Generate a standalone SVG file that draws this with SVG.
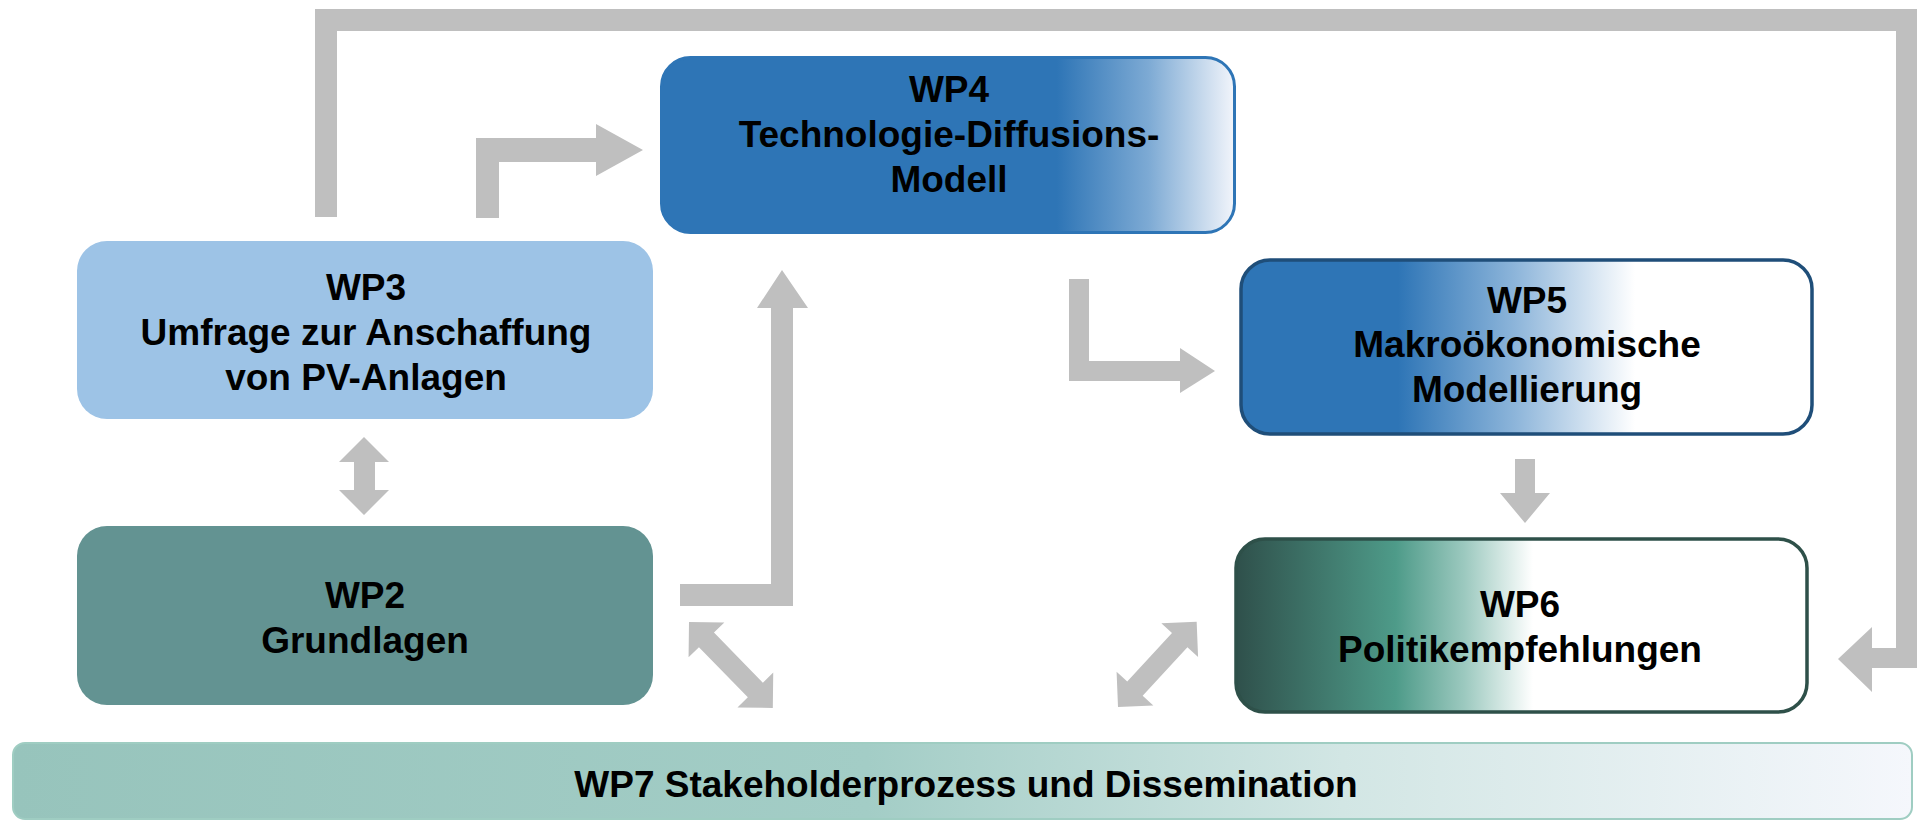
<svg xmlns="http://www.w3.org/2000/svg" width="1917" height="821" viewBox="0 0 1917 821">
<style>
.lbl{font-family:"Liberation Sans",Arial,sans-serif;font-weight:bold;font-size:37px;fill:#000;text-anchor:middle}
.conn{fill:#BFBFBF;stroke:none}
</style>
<defs>
<linearGradient id="g4" x1="0" y1="0" x2="1" y2="0">
<stop offset="0" stop-color="#2E75B6"/>
<stop offset="0.69" stop-color="#2E75B6"/>
<stop offset="0.85" stop-color="#7DAAD4"/>
<stop offset="1" stop-color="#F2F5FB"/>
</linearGradient>
<linearGradient id="g5" x1="0" y1="0" x2="1" y2="0">
<stop offset="0" stop-color="#2E75B6"/>
<stop offset="0.275" stop-color="#2E75B6"/>
<stop offset="0.48" stop-color="#8DB5DA"/>
<stop offset="0.69" stop-color="#FFFFFF"/>
<stop offset="1" stop-color="#FFFFFF"/>
</linearGradient>
<linearGradient id="g6" x1="0" y1="0" x2="1" y2="0">
<stop offset="0" stop-color="#2F504B"/>
<stop offset="0.28" stop-color="#4E9B89"/>
<stop offset="0.40" stop-color="#9CC9BF"/>
<stop offset="0.52" stop-color="#FFFFFF"/>
<stop offset="1" stop-color="#FFFFFF"/>
</linearGradient>
<linearGradient id="g7" x1="0" y1="0" x2="1" y2="0">
<stop offset="0" stop-color="#97C4BC"/>
<stop offset="0.45" stop-color="#A3CDC6"/>
<stop offset="0.7" stop-color="#D2E6E4"/>
<stop offset="1" stop-color="#F5F7FC"/>
</linearGradient>
</defs>

<g id="connectors">
<polygon class="conn" points="315,217 315,9 1917,9 1917,668 1872,668 1872,692 1838,659 1872,627 1872,648 1896,648 1896,31 337,31 337,217"/>
<polygon class="conn" points="476,218 476,138 596,138 596,124 643,150 596,176 596,162 499,162 499,218"/>
<polygon class="conn" points="680,584 771,584 771,308 757,308 782,270 808,308 793,308 793,606 680,606"/>
<polygon class="conn" points="1069,279 1089,279 1089,361 1180,361 1180,348 1215,371 1180,393 1180,381 1069,381"/>
<polygon class="conn" points="1515,459 1535,459 1535,493 1550,493 1525,523 1500,493 1515,493"/>
<polygon class="conn" points="364,437 389,462 375,462 375,490 389,490 364,515 339,490 354,490 354,462 339,462"/>
<polygon class="conn" transform="translate(689,622) rotate(45.7)" points="0,0 25,-25 25,-10.5 95,-10.5 95,-25 120,0 95,25 95,10.5 25,10.5 25,25"/>
<polygon class="conn" transform="translate(1118,707) rotate(-47.3)" points="0,0 25,-25 25,-10.5 91,-10.5 91,-25 116,0 91,25 91,10.5 25,10.5 25,25"/>
</g>

<g id="wp3">
<rect x="77" y="241" width="576" height="178" rx="30" fill="#9DC3E6"/>
<text class="lbl" x="366" y="300">WP3</text>
<text class="lbl" x="366" y="345">Umfrage zur Anschaffung</text>
<text class="lbl" x="366" y="390">von PV-Anlagen</text>
</g>

<g id="wp2">
<rect x="77" y="526" width="576" height="179" rx="30" fill="#639392"/>
<text class="lbl" x="365" y="608">WP2</text>
<text class="lbl" x="365" y="653">Grundlagen</text>
</g>

<g id="wp4">
<rect x="661.5" y="57.5" width="573" height="175" rx="29" fill="url(#g4)" stroke="#2E75B6" stroke-width="3"/>
<text class="lbl" x="949" y="102">WP4</text>
<text class="lbl" x="949" y="147">Technologie-Diffusions-</text>
<text class="lbl" x="949" y="192">Modell</text>
</g>

<g id="wp5">
<rect x="1241" y="260" width="571" height="174" rx="29" fill="url(#g5)" stroke="#1F4E79" stroke-width="3.5"/>
<text class="lbl" x="1527" y="313">WP5</text>
<text class="lbl" x="1527" y="357">Makroökonomische</text>
<text class="lbl" x="1527" y="402">Modellierung</text>
</g>

<g id="wp6">
<rect x="1236" y="539" width="571" height="173" rx="29" fill="url(#g6)" stroke="#2E5049" stroke-width="3.5"/>
<text class="lbl" x="1520" y="617">WP6</text>
<text class="lbl" x="1520" y="662">Politikempfehlungen</text>
</g>

<g id="wp7">
<rect x="13" y="743" width="1899" height="76" rx="12" fill="url(#g7)" stroke="#9FCDC2" stroke-width="2"/>
<text class="lbl" x="966" y="797">WP7 Stakeholderprozess und Dissemination</text>
</g>
</svg>
